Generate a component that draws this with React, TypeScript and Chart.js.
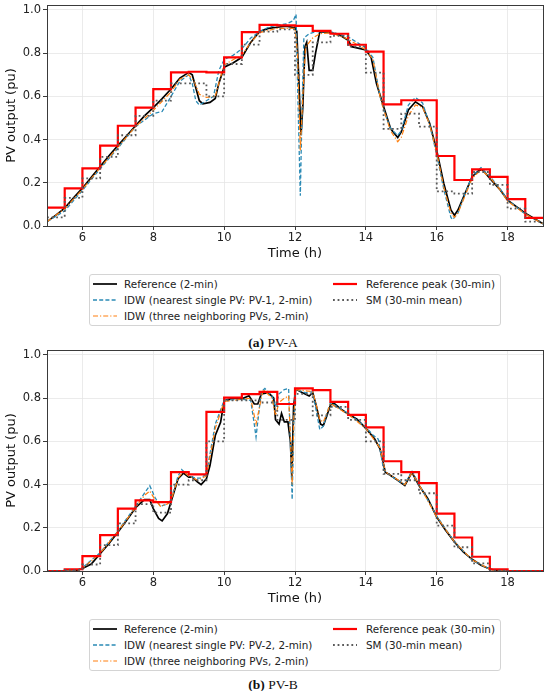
import { useEffect, useRef } from 'react';
import { Chart, registerables, type ChartConfiguration } from 'chart.js';

Chart.register(...registerables);

// axis ticks
const xTicks = [6, 8, 10, 12, 14, 16, 18];
const yTicks = [0, 0.2, 0.4, 0.6, 0.8, 1.0];

// 30-min interval starts (last entry closes the final interval)
const stepStarts = [5, 5.5, 6, 6.5, 7, 7.5, 8, 8.5, 9, 9.5, 10, 10.5, 11, 11.5, 12, 12.5, 13, 13.5, 14, 14.5, 15, 15.5, 16, 16.5, 17, 17.5, 18, 18.5, 19];

// ---- PV-A ----
const timeRefA = [5, 5.25, 5.5, 5.75, 6, 6.25, 6.5, 6.75, 7, 7.25, 7.5, 7.75, 8, 8.25, 8.5, 8.75, 9, 9.1, 9.2, 9.3, 9.4, 9.6, 9.75, 9.85, 10, 10.25, 10.5, 10.75, 11, 11.25, 11.5, 11.75, 12, 12.05, 12.1, 12.17, 12.22, 12.28, 12.33, 12.4, 12.5, 12.58, 12.7, 13, 13.25, 13.5, 13.6, 14, 14.15, 14.3, 14.5, 14.7, 14.9, 15, 15.2, 15.4, 15.6, 15.8, 16, 16.2, 16.4, 16.5, 16.6, 16.8, 17, 17.2, 17.3, 17.5, 17.8, 18, 18.5, 19];
const refA = [0.02, 0.05, 0.083, 0.13, 0.175, 0.225, 0.275, 0.325, 0.372, 0.418, 0.464, 0.51, 0.548, 0.59, 0.634, 0.685, 0.711, 0.7, 0.64, 0.58, 0.565, 0.572, 0.59, 0.66, 0.735, 0.755, 0.781, 0.85, 0.9, 0.915, 0.92, 0.925, 0.918, 0.9, 0.71, 0.42, 0.55, 0.83, 0.85, 0.72, 0.72, 0.8, 0.9, 0.895, 0.885, 0.86, 0.83, 0.815, 0.78, 0.66, 0.553, 0.45, 0.41, 0.436, 0.537, 0.575, 0.553, 0.475, 0.35, 0.197, 0.074, 0.05, 0.074, 0.151, 0.228, 0.259, 0.259, 0.22, 0.166, 0.12, 0.059, 0.01];

const timeNearA = [5, 5.5, 6, 6.5, 7, 7.5, 8, 8.25, 8.5, 8.75, 9, 9.1, 9.2, 9.3, 9.5, 9.7, 9.85, 10, 10.25, 10.5, 10.75, 11, 11.25, 11.5, 11.75, 11.95, 12.03, 12.08, 12.15, 12.2, 12.25, 12.4, 12.6, 13, 13.5, 14, 14.2, 14.4, 14.5, 14.7, 14.9, 15, 15.2, 15.4, 15.6, 15.8, 16, 16.2, 16.4, 16.45, 16.6, 16.8, 17, 17.25, 17.5, 17.8, 18, 18.5, 19];
const nearA = [0.02, 0.07, 0.165, 0.265, 0.36, 0.46, 0.52, 0.53, 0.6, 0.67, 0.7, 0.66, 0.58, 0.56, 0.58, 0.6, 0.72, 0.77, 0.79, 0.82, 0.87, 0.9, 0.92, 0.93, 0.935, 0.95, 0.98, 0.6, 0.14, 0.55, 0.87, 0.89, 0.9, 0.9, 0.875, 0.825, 0.78, 0.6, 0.54, 0.45, 0.42, 0.44, 0.56, 0.595, 0.57, 0.47, 0.33, 0.17, 0.04, 0.03, 0.06, 0.15, 0.23, 0.27, 0.23, 0.17, 0.12, 0.055, 0.01];

const timeThreeA = [5, 5.5, 6, 6.5, 7, 7.5, 8, 8.5, 8.75, 9, 9.15, 9.3, 9.5, 9.75, 9.9, 10, 10.25, 10.5, 10.75, 11, 11.5, 12, 12.07, 12.15, 12.22, 12.3, 12.5, 12.7, 13, 13.5, 14, 14.2, 14.4, 14.5, 14.7, 14.9, 15, 15.2, 15.4, 15.6, 15.8, 16, 16.2, 16.4, 16.5, 16.6, 16.8, 17, 17.25, 17.5, 17.8, 18, 18.5, 19];
const threeA = [0.02, 0.08, 0.17, 0.27, 0.365, 0.46, 0.535, 0.62, 0.68, 0.7, 0.67, 0.61, 0.595, 0.6, 0.69, 0.745, 0.77, 0.79, 0.85, 0.895, 0.915, 0.915, 0.8, 0.35, 0.6, 0.83, 0.87, 0.89, 0.895, 0.865, 0.815, 0.77, 0.6, 0.54, 0.44, 0.39, 0.41, 0.51, 0.56, 0.55, 0.47, 0.34, 0.18, 0.06, 0.04, 0.06, 0.14, 0.22, 0.26, 0.225, 0.165, 0.115, 0.055, 0.01];

const peakA = [0.085, 0.174, 0.267, 0.372, 0.464, 0.548, 0.634, 0.711, 0.714, 0.711, 0.781, 0.897, 0.931, 0.929, 0.926, 0.903, 0.89, 0.839, 0.807, 0.563, 0.582, 0.582, 0.324, 0.213, 0.262, 0.227, 0.124, 0.038];
const meanA = [0.04, 0.13, 0.22, 0.32, 0.42, 0.51, 0.58, 0.66, 0.66, 0.6, 0.75, 0.84, 0.9, 0.91, 0.7, 0.85, 0.88, 0.83, 0.71, 0.45, 0.52, 0.46, 0.16, 0.15, 0.25, 0.19, 0.08, 0.02];

// ---- PV-B ----
const timeRefB = [5, 5.8, 6, 6.25, 6.5, 6.75, 7, 7.25, 7.5, 7.75, 7.9, 8, 8.15, 8.25, 8.4, 8.5, 8.7, 8.85, 9, 9.1, 9.25, 9.35, 9.5, 9.6, 9.75, 9.9, 10, 10.25, 10.5, 10.7, 10.85, 10.95, 11.05, 11.25, 11.4, 11.45, 11.55, 11.62, 11.7, 11.8, 11.87, 11.91, 11.96, 12.02, 12.2, 12.4, 12.5, 12.6, 12.72, 12.8, 12.9, 13, 13.1, 13.3, 13.5, 13.75, 14, 14.25, 14.4, 14.55, 14.7, 14.9, 15.1, 15.3, 15.5, 15.75, 16, 16.25, 16.5, 16.75, 17, 17.25, 17.5, 17.75, 19];
const refB = [0, 0, 0.012, 0.032, 0.08, 0.128, 0.18, 0.235, 0.293, 0.33, 0.33, 0.289, 0.243, 0.232, 0.266, 0.319, 0.427, 0.453, 0.435, 0.435, 0.412, 0.4, 0.427, 0.488, 0.627, 0.688, 0.788, 0.8, 0.797, 0.811, 0.773, 0.773, 0.82, 0.825, 0.8, 0.7, 0.68, 0.73, 0.69, 0.69, 0.6, 0.435, 0.76, 0.842, 0.826, 0.81, 0.826, 0.765, 0.68, 0.673, 0.719, 0.768, 0.776, 0.749, 0.727, 0.703, 0.66, 0.611, 0.565, 0.457, 0.442, 0.42, 0.396, 0.457, 0.396, 0.335, 0.25, 0.189, 0.135, 0.089, 0.054, 0.027, 0.009, 0, 0];

const timeNearB = [5, 5.8, 6, 6.5, 7, 7.5, 7.75, 7.9, 8.05, 8.2, 8.4, 8.5, 8.7, 8.8, 9, 9.2, 9.35, 9.5, 9.75, 10, 10.5, 10.75, 10.85, 10.9, 10.97, 11.05, 11.15, 11.35, 11.45, 11.55, 11.7, 11.82, 11.87, 11.92, 11.97, 12.02, 12.3, 12.5, 12.6, 12.7, 12.8, 12.9, 13, 13.2, 13.5, 14, 14.2, 14.35, 14.5, 14.7, 15.1, 15.3, 15.5, 16, 16.5, 17, 17.5, 17.75, 19];
const nearB = [0, 0, 0.015, 0.085, 0.185, 0.3, 0.36, 0.395, 0.34, 0.3, 0.31, 0.33, 0.44, 0.47, 0.44, 0.43, 0.43, 0.45, 0.68, 0.79, 0.795, 0.79, 0.68, 0.62, 0.72, 0.83, 0.845, 0.81, 0.76, 0.82, 0.84, 0.845, 0.6, 0.33, 0.7, 0.84, 0.825, 0.83, 0.74, 0.655, 0.67, 0.73, 0.78, 0.76, 0.73, 0.665, 0.63, 0.61, 0.47, 0.44, 0.4, 0.465, 0.4, 0.255, 0.135, 0.05, 0.008, 0, 0];

const timeThreeB = [5, 5.8, 6, 6.5, 7, 7.5, 7.75, 7.9, 8.05, 8.2, 8.4, 8.5, 8.7, 8.85, 9, 9.25, 9.5, 9.75, 10, 10.5, 10.75, 10.9, 11, 11.1, 11.35, 11.45, 11.55, 11.7, 11.82, 11.87, 11.92, 11.97, 12.02, 12.5, 12.6, 12.7, 12.8, 12.9, 13, 13.5, 14, 14.4, 14.55, 15.1, 15.3, 15.5, 16, 16.5, 17, 17.5, 17.75, 19];
const threeB = [0, 0, 0.012, 0.082, 0.182, 0.295, 0.35, 0.37, 0.33, 0.3, 0.31, 0.325, 0.43, 0.46, 0.44, 0.42, 0.44, 0.66, 0.785, 0.795, 0.8, 0.68, 0.76, 0.84, 0.8, 0.72, 0.78, 0.8, 0.81, 0.62, 0.4, 0.72, 0.84, 0.83, 0.77, 0.7, 0.69, 0.73, 0.775, 0.725, 0.66, 0.57, 0.46, 0.4, 0.455, 0.4, 0.25, 0.135, 0.052, 0.008, 0, 0];

const peakB = [0, 0.008, 0.069, 0.166, 0.289, 0.327, 0.319, 0.458, 0.447, 0.737, 0.803, 0.819, 0.829, 0.773, 0.845, 0.837, 0.783, 0.723, 0.665, 0.508, 0.458, 0.407, 0.266, 0.155, 0.066, 0.008, 0, 0];
const meanB = [0, 0.005, 0.03, 0.12, 0.22, 0.31, 0.27, 0.4, 0.42, 0.6, 0.79, 0.79, 0.78, 0.7, 0.82, 0.72, 0.76, 0.7, 0.6, 0.45, 0.42, 0.36, 0.21, 0.11, 0.035, 0.003, 0, 0];

const legendLabels = (pv: string) => [
  'Reference (2-min)',
  `IDW (nearest single PV: ${pv}, 2-min)`,
  'IDW (three neighboring PVs, 2-min)',
  'Reference peak (30-min)',
  'SM (30-min mean)',
];

const styles = [
  { color: '#000000', width: 1.7, dash: [] as number[] },
  { color: '#2a8ab5', width: 1.3, dash: [4, 2.2] },
  { color: '#ff7f0e', width: 1.2, dash: [5, 2, 1.2, 2] },
  { color: '#ff0000', width: 2.2, dash: [] as number[] },
  { color: '#5a5a5a', width: 1.8, dash: [1.8, 2.8] },
];

const FONT = "'DejaVu Sans', sans-serif";

const zip = (xs: number[], ys: number[]) =>
  xs.slice(0, Math.min(xs.length, ys.length)).map((x, i) => ({ x, y: ys[i] }));

const steps = (vals: number[]) =>
  stepStarts.map((x, i) => ({ x, y: vals[Math.min(i, vals.length - 1)] }));

const framePlugin = {
  id: 'frame',
  afterDraw(chart: Chart) {
    const { ctx, chartArea: a } = chart;
    ctx.save();
    ctx.strokeStyle = '#3a3a3a';
    ctx.lineWidth = 1;
    ctx.strokeRect(Math.round(a.left) + 0.5, Math.round(a.top) + 0.5, Math.round(a.right - a.left), Math.round(a.bottom - a.top));
    ctx.restore();
  },
};

type Series = { x: number; y: number }[];

function Panel({ series, labels }: { series: Series[]; labels: string[] }) {
  const canvasRef = useRef<HTMLCanvasElement | null>(null);

  useEffect(() => {
    if (!canvasRef.current) return;
    const config: ChartConfiguration<'line'> = {
      type: 'line',
      data: {
        datasets: series.map((data, i) => ({
          label: labels[i],
          data,
          borderColor: styles[i].color,
          borderWidth: styles[i].width,
          borderDash: styles[i].dash,
          pointRadius: 0,
          tension: 0,
          fill: false,
          // 'before' holds each value until the next interval start
          stepped: i >= 3 ? 'before' : false,
          order: 5 - i,
        })),
      },
      options: {
        responsive: true,
        maintainAspectRatio: false,
        animation: false,
        layout: { padding: { top: 5, right: 7, left: 0, bottom: 0 } },
        plugins: { legend: { display: false }, tooltip: { enabled: false } },
        scales: {
          x: {
            type: 'linear',
            min: 5,
            max: 19,
            afterBuildTicks: (s) => { s.ticks = xTicks.map((value) => ({ value })); },
            afterFit: (s) => { s.height = 36; s.paddingLeft = 0; s.paddingRight = 0; },
            grid: { color: '#e6e6e6', lineWidth: 0.8, tickColor: '#3a3a3a', tickLength: 4, tickWidth: 1 },
            border: { display: false },
            ticks: { padding: 1, color: '#222', font: { family: FONT, size: 11.5 }, maxRotation: 0, autoSkip: false, callback: (v) => String(v) },
            title: { display: true, text: 'Time (h)', color: '#111', font: { family: FONT, size: 13 }, padding: { top: 0, bottom: 1 } },
          },
          y: {
            type: 'linear',
            min: 0,
            max: 1.023,
            afterBuildTicks: (s) => { s.ticks = yTicks.map((value) => ({ value })); },
            afterFit: (s) => { s.width = 47; s.paddingTop = 0; s.paddingBottom = 0; },
            grid: { color: '#e6e6e6', lineWidth: 0.8, tickColor: '#3a3a3a', tickLength: 4, tickWidth: 1 },
            border: { display: false },
            ticks: { padding: 2, color: '#222', font: { family: FONT, size: 11.5 }, callback: (v) => Number(v).toFixed(1) },
            title: { display: true, text: 'PV output (pu)', color: '#111', font: { family: FONT, size: 13 }, padding: { top: 4, bottom: 0 } },
          },
        },
      },
      plugins: [framePlugin],
    };
    const chart = new Chart(canvasRef.current, config);
    return () => chart.destroy();
  }, [series, labels]);

  return <canvas ref={canvasRef} />;
}

function Legend({ labels, top }: { labels: string[]; top: number }) {
  const slots = [
    { col: 0, row: 0 }, { col: 0, row: 1 }, { col: 0, row: 2 },
    { col: 1, row: 0 }, { col: 1, row: 1 },
  ];
  return (
    <div style={{ position: 'absolute', left: 89, top, width: 412, height: 52, border: '1px solid #d4d4d4', borderRadius: 3, boxSizing: 'border-box', background: '#fff' }}>
      {labels.map((label, i) => {
        const { col, row } = slots[i];
        const cy = 9 + row * 16;
        const sx = col === 0 ? 3 : 243;
        const tx = col === 0 ? 34 : 276;
        const st = styles[i];
        return (
          <div key={label}>
            <svg width={24} height={6} style={{ position: 'absolute', left: sx, top: cy - 3 }}>
              <line x1={0} y1={3} x2={24} y2={3} stroke={st.color} strokeWidth={st.width} strokeDasharray={st.dash.length ? st.dash.join(',') : undefined} />
            </svg>
            <div style={{ position: 'absolute', left: tx, top: cy - 6, lineHeight: '12px', fontSize: 10.4, fontFamily: FONT, color: '#222', whiteSpace: 'nowrap' }}>{label}</div>
          </div>
        );
      })}
    </div>
  );
}

function Caption({ tag, name, top }: { tag: string; name: string; top: number }) {
  return (
    <div style={{ position: 'absolute', left: 0, top: top - 8, width: 546, textAlign: 'center', lineHeight: '16px', fontSize: 13.5, fontFamily: "'Liberation Serif', serif", color: '#111' }}>
      <b>({tag})</b> {name}
    </div>
  );
}

const seriesA: Series[] = [zip(timeRefA, refA), zip(timeNearA, nearA), zip(timeThreeA, threeA), steps(peakA), steps(meanA)];
const seriesB: Series[] = [zip(timeRefB, refB), zip(timeNearB, nearB), zip(timeThreeB, threeB), steps(peakB), steps(meanB)];
const labelsA = legendLabels('PV-1');
const labelsB = legendLabels('PV-2');

export default function App() {
  return (
    <div style={{ position: 'absolute', left: 0, top: 0, width: 550, height: 691, background: '#fff', overflow: 'hidden' }}>
      <div style={{ position: 'absolute', left: 0, top: 0, width: 550, height: 262 }}>
        <Panel series={seriesA} labels={labelsA} />
      </div>
      <Legend labels={labelsA} top={274} />
      <Caption tag="a" name="PV-A" top={343} />
      <div style={{ position: 'absolute', left: 0, top: 345, width: 550, height: 262 }}>
        <Panel series={seriesB} labels={labelsB} />
      </div>
      <Legend labels={labelsB} top={619} />
      <Caption tag="b" name="PV-B" top={685} />
    </div>
  );
}
